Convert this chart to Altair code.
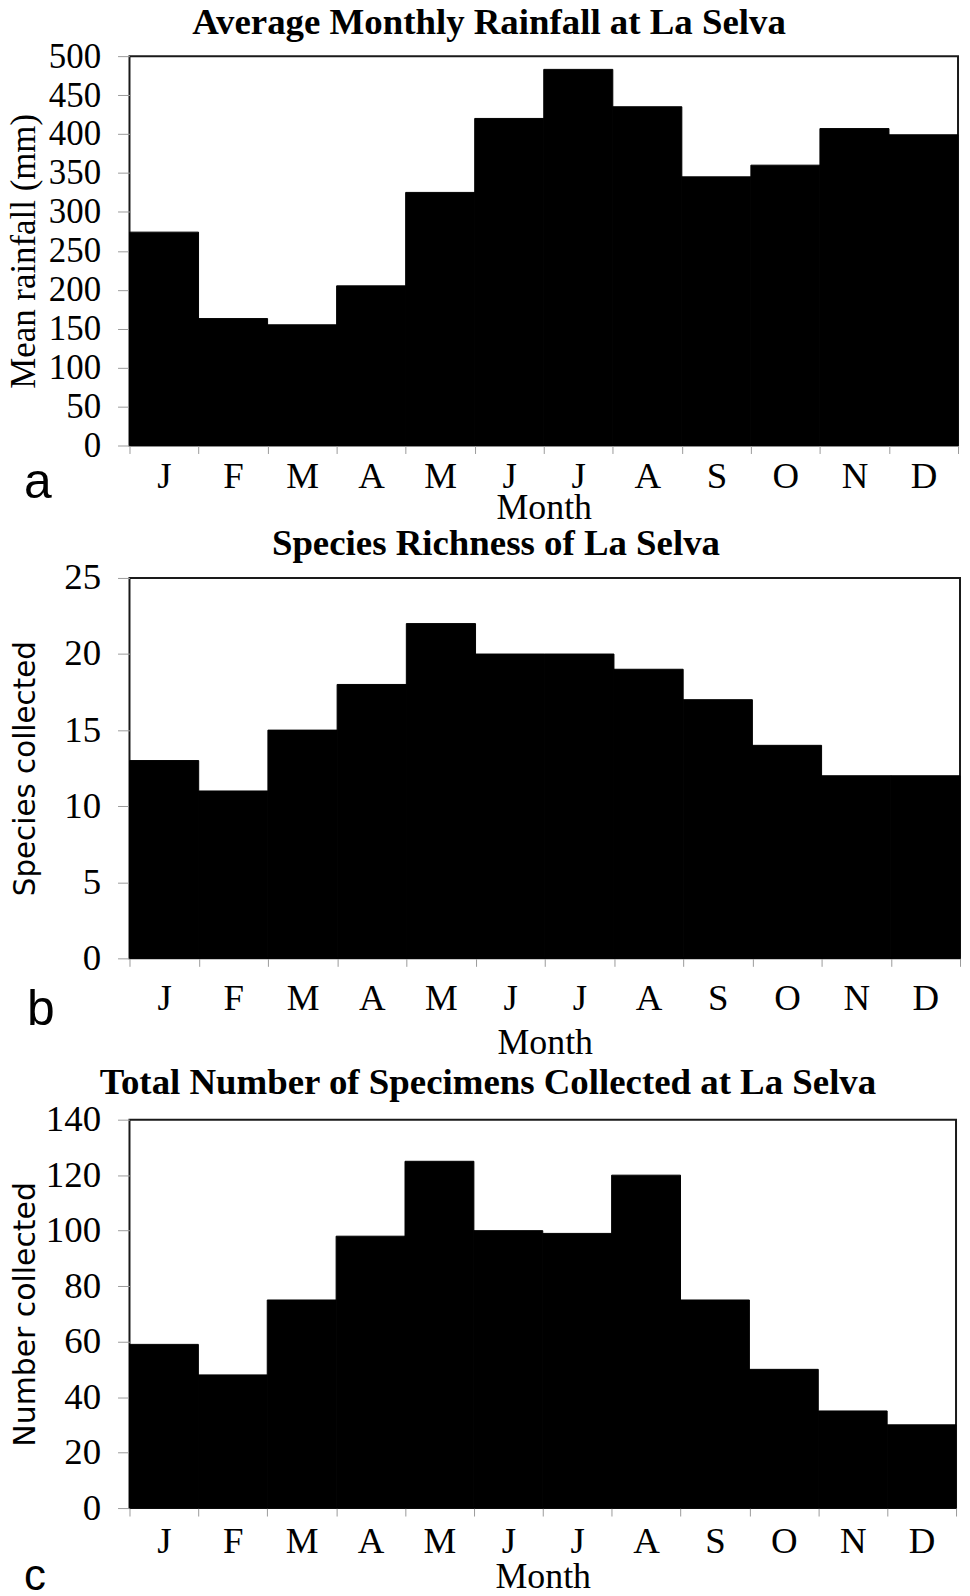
import altair as alt
import pandas as pd

months = ["January", "February", "March", "April", "May", "June",
          "July", "August", "September", "October", "November", "December"]
rainfall_mm = [274, 163, 155, 205, 325, 420, 483, 435, 345, 360, 407, 399]
species_collected = [13, 11, 15, 18, 22, 20, 20, 19, 17, 14, 12, 12]
specimens_collected = [59, 48, 75, 98, 125, 100, 99, 120, 75, 50, 35, 30]

rain_ticks = [0, 50, 100, 150, 200, 250, 300, 350, 400, 450, 500]
species_ticks = [0, 5, 10, 15, 20, 25]
specimen_ticks = [0, 20, 40, 60, 80, 100, 120, 140]

titles = ["Average Monthly Rainfall at La Selva",
          "Species Richness of La Selva",
          "Total Number of Specimens Collected at La Selva"]
y_titles = ["Mean rainfall (mm)", "Species collected", "Number collected"]
panel_letters = ["a", "b", "c"]

SERIF = "Liberation Serif"
SANS = "DejaVu Sans"
LETTER_FONT = "Liberation Sans"


def panel(values, ticks, title, ytitle, ytitle_font, ytitle_size, ylabel_size,
          width, height, xlabel_pad, xtitle_y, title_offset, title_dx,
          letter, letter_x, letter_dy, letter_size):
    df = pd.DataFrame({"month": months, "value": values})
    x = alt.X(
        "month:O", sort=months,
        scale=alt.Scale(paddingInner=0, paddingOuter=0),
        axis=alt.Axis(
            title="Month",
            labelExpr="isValid(datum.value) && indexof(datum.label, 'undefined') < 0 ? substring(datum.value, 0, 1) : ''",
            labelAngle=0,
            labelFont=SERIF, labelFontSize=37, labelColor="black",
            labelBaseline="alphabetic", labelPadding=xlabel_pad,
            tickBand="extent", tickSize=8, tickColor="#9a9a9a", domain=False,
            titleFont=SERIF, titleFontSize=36, titleFontWeight="normal",
            titleColor="black", titleBaseline="alphabetic", titleY=xtitle_y,
        ),
    )
    y = alt.Y(
        "value:Q",
        scale=alt.Scale(domain=[0, ticks[-1]], nice=False, zero=True),
        axis=alt.Axis(
            title=ytitle, values=ticks, grid=False, domain=False,
            labelFont=SERIF, labelFontSize=ylabel_size, labelColor="black",
            labelPadding=17, tickSize=12, tickColor="#9a9a9a",
            titleFont=ytitle_font, titleFontSize=ytitle_size, titleFontWeight="normal",
            titleColor="black", titleBaseline="alphabetic", titleX=-95,
        ),
    )
    bars = alt.Chart(df).mark_bar(color="black", stroke="black", strokeWidth=1).encode(x=x, y=y)
    lab = alt.Chart(pd.DataFrame({"lab": [letter]})).mark_text(
        font=LETTER_FONT, fontSize=letter_size, align="left", baseline="alphabetic", color="black"
    ).encode(text="lab:N", x=alt.value(letter_x), y=alt.value(height + letter_dy))
    return alt.layer(bars, lab).properties(
        width=width, height=height,
        title=alt.TitleParams(
            text=title, font=SERIF, fontSize=37, fontWeight="bold", color="black",
            anchor="middle", frame="group", dx=title_dx, offset=title_offset,
            baseline="alphabetic",
        ),
    )


def spacer(h):
    return alt.Chart(pd.DataFrame({"s": [0]})).mark_point(opacity=0).encode(
        x=alt.value(0), y=alt.value(0)
    ).properties(width=10, height=h, view=alt.ViewBackground(strokeOpacity=0))


pa = panel(rainfall_mm, rain_ticks, titles[0], y_titles[0], SERIF, 35, 35,
           832, 391, 34, 73, -31.5, -55, panel_letters[0], -106, 53, 50)
pb = panel(species_collected, species_ticks, titles[1], y_titles[1], SANS, 29.5, 37,
           834, 382, 43, 96, -32.5, -49, panel_letters[1], -103, 67, 50)
pc = panel(specimens_collected, specimen_ticks, titles[2], y_titles[2], SANS, 30, 37,
           830, 390, 37, 80, -30.5, -55, panel_letters[2], -106, 82, 44)

chart = alt.vconcat(pa, spacer(133), pb, spacer(162), pc, spacing=0, bounds="flush").configure_view(
    stroke="#1a1a1a", strokeWidth=2
).properties(
    padding={"left": -3, "top": -9, "right": 0, "bottom": 0}, background="white"
)

chart.save("out.html", embed_options={"renderer": "svg", "actions": False})
